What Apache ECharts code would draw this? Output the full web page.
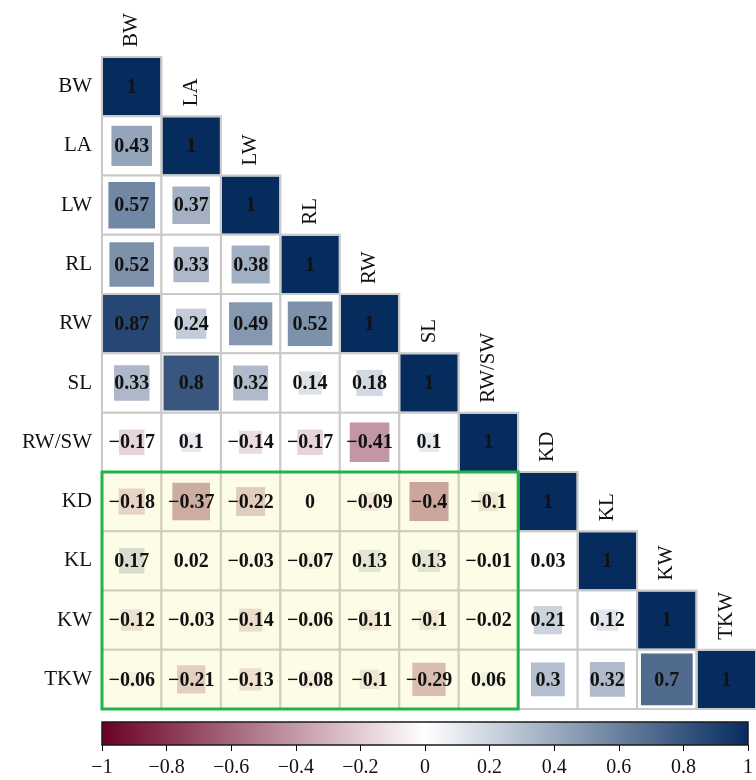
<!DOCTYPE html>
<html>
<head>
<meta charset="utf-8">
<script src="https://cdn.jsdelivr.net/npm/echarts@6/dist/echarts.min.js"></script>
<style>
  html, body { margin: 0; padding: 0; background: #fff; }
  #chart { width: 756px; height: 780px; }
</style>
</head>
<body>
<div id="chart"></div>
<script>
// Trait names (rows top to bottom, columns left to right)
const variables = ['BW', 'LA', 'LW', 'RL', 'RW', 'SL', 'RW/SW', 'KD', 'KL', 'KW', 'TKW'];

// Lower-triangle correlation coefficients, one row per trait
const rBW   = [1];
const rLA   = [0.43, 1];
const rLW   = [0.57, 0.37, 1];
const rRL   = [0.52, 0.33, 0.38, 1];
const rRW   = [0.87, 0.24, 0.49, 0.52, 1];
const rSL   = [0.33, 0.8, 0.32, 0.14, 0.18, 1];
const rRWSW = [-0.17, 0.1, -0.14, -0.17, -0.41, 0.1, 1];
const rKD   = [-0.18, -0.37, -0.22, 0, -0.09, -0.4, -0.1, 1];
const rKL   = [0.17, 0.02, -0.03, -0.07, 0.13, 0.13, -0.01, 0.03, 1];
const rKW   = [-0.12, -0.03, -0.14, -0.06, -0.11, -0.1, -0.02, 0.21, 0.12, 1];
const rTKW  = [-0.06, -0.21, -0.13, -0.08, -0.1, -0.29, 0.06, 0.3, 0.32, 0.7, 1];
const corrRows = [rBW, rLA, rLW, rRL, rRW, rSL, rRWSW, rKD, rKL, rKW, rTKW];

// Highlighted block: kernel traits against spike traits
const highlightCols = ['BW', 'RW/SW'];
const highlightRows = ['KD', 'TKW'];

// Colour scale range and colorbar tick step
const scaleRange = [-1, 1];
const scaleStep = 0.2;
const scaleColors = ['#6a0022', '#ffffff', '#062c5e'];

const SERIF = '"Liberation Serif", "Times New Roman", serif';

const cellData = [];
corrRows.forEach((row, i) => {
  row.forEach((v, j) => cellData.push([j, i, v]));
});

function fmtNum(v) {
  if (Math.abs(v) < 1e-9) return '0';
  const s = String(parseFloat(Math.abs(v).toFixed(2)));
  return (v < 0 ? '\u2212' : '') + s;
}

function renderCell(params, api) {
  const c = api.value(0), r = api.value(1), v = api.value(2);
  const ctr = api.coord([c, r]);
  const sz = api.size([1, 1]);
  const w = sz[0], h = sz[1];
  const k = Math.sqrt(Math.abs(v)) * 1.04;
  const bw = Math.min(w * k, w - 2), bh = Math.min(h * k, h - 2);
  const children = [{
    type: 'rect',
    shape: { x: ctr[0] - w / 2, y: ctr[1] - h / 2, width: w, height: h },
    style: { fill: '#ffffff' }
  }];
  if (k > 0) {
    children.push({
      type: 'rect',
      shape: { x: ctr[0] - bw / 2, y: ctr[1] - bh / 2, width: bw, height: bh },
      style: { fill: api.visual('color') }
    });
  }
  children.push({
    type: 'rect',
    shape: { x: ctr[0] - w / 2, y: ctr[1] - h / 2, width: w, height: h },
    style: { fill: 'none', stroke: '#c9c9c9', lineWidth: 2 }
  });
  return { type: 'group', children };
}

function renderValue(params, api) {
  const ctr = api.coord([api.value(0), api.value(1)]);
  return {
    type: 'text',
    x: ctr[0], y: ctr[1] + 1,
    style: {
      text: fmtNum(api.value(2)),
      align: 'center', verticalAlign: 'middle',
      fontFamily: SERIF, fontWeight: 'bold', fontSize: 20,
      fill: '#111111'
    }
  };
}

function renderHeader(params, api) {
  const i = api.value(0);
  const ctr = api.coord([i, i]);
  const sz = api.size([1, 1]);
  return {
    type: 'text',
    x: ctr[0], y: ctr[1] - sz[1] / 2 - 10,
    rotation: Math.PI / 2,
    style: {
      text: variables[i],
      align: 'left', verticalAlign: 'middle',
      fontFamily: SERIF, fontSize: 21,
      fill: '#111111'
    }
  };
}

function renderHighlight(params, api) {
  const c0 = api.value(0), c1 = api.value(1), r0 = api.value(2), r1 = api.value(3);
  const sz = api.size([1, 1]);
  const a = api.coord([c0, r0]);
  const b = api.coord([c1, r1]);
  const shape = {
    x: a[0] - sz[0] / 2, y: a[1] - sz[1] / 2,
    width: b[0] - a[0] + sz[0], height: b[1] - a[1] + sz[1]
  };
  return {
    type: 'group',
    children: [
      { type: 'rect', shape, style: { fill: 'rgba(242, 236, 100, 0.16)' } },
      { type: 'rect', shape, style: { fill: 'none', stroke: '#1fb34b', lineWidth: 3 } }
    ]
  };
}

function renderColorbar(params, api) {
  const p0 = api.coord([api.value(0), 1]);
  const p1 = api.coord([api.value(1), 0]);
  return {
    type: 'rect',
    shape: { x: p0[0], y: p0[1], width: p1[0] - p0[0], height: p1[1] - p0[1] },
    style: {
      fill: new echarts.graphic.LinearGradient(0, 0, 1, 0,
        scaleColors.map((c, i) => ({ offset: i / (scaleColors.length - 1), color: c }))),
      stroke: '#1a1a1a', lineWidth: 1.5
    }
  };
}

const chart = echarts.init(document.getElementById('chart'), null, { renderer: 'canvas' });

chart.setOption({
  animation: false,
  backgroundColor: '#ffffff',
  grid: [
    { left: 102, top: 57, width: 654, height: 652 },
    { left: 102, top: 722, width: 654, height: 23 }
  ],
  xAxis: [
    {
      gridIndex: 0, type: 'category', data: variables,
      axisLine: { show: false }, axisTick: { show: false },
      axisLabel: { show: false }, splitLine: { show: false }
    },
    {
      gridIndex: 1, type: 'value',
      min: scaleRange[0], max: scaleRange[1], interval: scaleStep,
      axisLine: { show: false },
      axisTick: { show: true, inside: false, length: 6, lineStyle: { color: '#000', width: 1 } },
      splitLine: { show: false },
      axisLabel: {
        margin: 13, fontFamily: SERIF, fontSize: 20, color: '#111',
        formatter: v => fmtNum(Math.round(v * 10) / 10)
      }
    }
  ],
  yAxis: [
    {
      gridIndex: 0, type: 'category', data: variables, inverse: true,
      axisLine: { show: false }, axisTick: { show: false }, splitLine: { show: false },
      axisLabel: { interval: 0, margin: 10, fontFamily: SERIF, fontSize: 21, color: '#111' }
    },
    { gridIndex: 1, type: 'value', min: 0, max: 1, show: false }
  ],
  visualMap: {
    type: 'continuous', show: false,
    min: scaleRange[0], max: scaleRange[1],
    dimension: 2, seriesIndex: 0,
    inRange: { color: scaleColors }
  },
  series: [
    {
      type: 'custom', xAxisIndex: 0, yAxisIndex: 0, z: 1,
      renderItem: renderCell, data: cellData
    },
    {
      type: 'custom', xAxisIndex: 0, yAxisIndex: 0, z: 2,
      renderItem: renderHighlight,
      data: [[variables.indexOf(highlightCols[0]), variables.indexOf(highlightCols[1]),
              variables.indexOf(highlightRows[0]), variables.indexOf(highlightRows[1])]]
    },
    {
      type: 'custom', xAxisIndex: 0, yAxisIndex: 0, z: 3,
      renderItem: renderValue, data: cellData
    },
    {
      type: 'custom', xAxisIndex: 0, yAxisIndex: 0, z: 3,
      renderItem: renderHeader, data: variables.map((v, i) => [i])
    },
    {
      type: 'custom', xAxisIndex: 1, yAxisIndex: 1, z: 1,
      renderItem: renderColorbar, data: [[scaleRange[0], scaleRange[1]]]
    }
  ]
});
</script>
</body>
</html>
